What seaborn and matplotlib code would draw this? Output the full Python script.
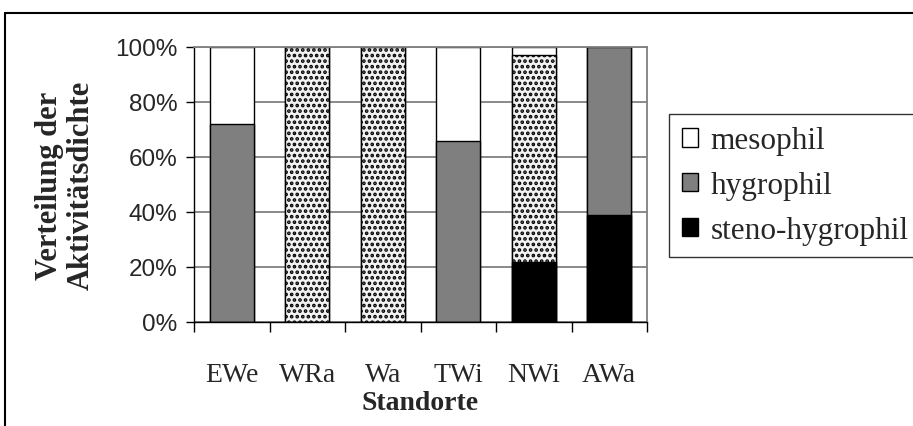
import pandas as pd
import seaborn as sns
import matplotlib.pyplot as plt
from matplotlib.patches import Patch
from matplotlib.lines import Line2D

# data (percent of activity density)
standorte = ['EWe', 'WRa', 'Wa', 'TWi', 'NWi', 'AWa']
steno_hygrophil = [0, 0, 0, 0, 22, 39]
hygrophil = [72, 100, 100, 66, 75, 61]
mesophil = [28, 0, 0, 34, 3, 0]

df = pd.DataFrame({'Standort': standorte,
                   'steno': steno_hygrophil,
                   'hygro': hygrophil,
                   'meso': mesophil})
df['cum_hygro'] = df['steno'] + df['hygro']
df['cum_meso'] = df['cum_hygro'] + df['meso']

# bars whose hygrophil part is drawn with the dotted pattern
dotted = ['WRa', 'Wa', 'NWi']

sns.set_style('white')
plt.rcParams['font.family'] = ['Liberation Serif', 'DejaVu Serif']
plt.rcParams['hatch.linewidth'] = 1.8

fig = plt.figure(figsize=(9.13, 4.27), dpi=100)
ax = fig.add_axes([194/913, 1-323/427, (647-194)/913, (323-48)/427])

w = 0.58
sns.barplot(data=df, x='Standort', y='cum_meso', color='white', edgecolor='black',
            linewidth=1.0, width=w, saturation=1, ax=ax)
n0 = len(ax.patches)
sns.barplot(data=df, x='Standort', y='cum_hygro', color='#7f7f7f', edgecolor='black',
            linewidth=1.0, width=w, saturation=1, ax=ax)
hyg_bars = ax.patches[n0:]
sns.barplot(data=df, x='Standort', y='steno', color='black', edgecolor='black',
            linewidth=1.0, width=w, saturation=1, ax=ax)

for name, bar in zip(standorte, hyg_bars):
    if name in dotted:
        bar.set_facecolor('#f2f2f2')
        bar.set_hatch('...')

ax.set_xlim(-0.5, 5.5)
ax.set_ylim(0, 100)
ax.set_axisbelow(True)
ax.yaxis.grid(True, color='#808080', linewidth=1.3)
ax.set_yticks([0, 20, 40, 60, 80, 100])
ax.set_yticklabels([f'{v}%' for v in range(0, 101, 20)],
                   family='Liberation Sans', fontsize=17.5)
ax.tick_params(axis='y', direction='out', length=6, width=1, color='black', pad=6, left=True)

ax.set_xticks([i - 0.5 for i in range(7)])
ax.set_xticklabels([])
ax.set_xticks(range(6), minor=True)
ax.set_xticklabels(standorte, minor=True, fontsize=20)
ax.tick_params(axis='x', which='major', direction='out', length=7, width=1, color='black', bottom=True)
ax.tick_params(axis='x', which='minor', length=0, pad=29)

for s in ['top', 'right']:
    ax.spines[s].set_color('#808080')
    ax.spines[s].set_linewidth(1.3)
for s in ['left', 'bottom']:
    ax.spines[s].set_color('black')
    ax.spines[s].set_linewidth(1.0)

ax.set_xlabel('Standorte', fontsize=20, fontweight='bold', labelpad=2)
ax.set_ylabel('Verteilung der\nAktivitätsdichte', fontsize=22, fontweight='bold',
              linespacing=1.1, labelpad=14)

handles = [Patch(facecolor='white', edgecolor='black', label='mesophil'),
           Patch(facecolor='#7f7f7f', edgecolor='black', label='hygrophil'),
           Patch(facecolor='black', edgecolor='black', label='steno-hygrophil')]
leg = fig.legend(handles=handles, loc='upper left', bbox_to_anchor=(669/913, 1-115/427),
                 fontsize=22.5, frameon=True, fancybox=False, edgecolor='black',
                 handlelength=0.52, handleheight=0.52, handletextpad=0.4,
                 labelspacing=0.5, borderpad=0.4, borderaxespad=0)
leg.get_frame().set_linewidth(1.0)

# outer chart border
fig.add_artist(Line2D([5/913, 5/913], [0, 1-14/427], color='black', lw=1.5, transform=fig.transFigure))
fig.add_artist(Line2D([5/913, 1], [1-14/427, 1-14/427], color='black', lw=1.5, transform=fig.transFigure))

fig.savefig('out.png', dpi=100)
